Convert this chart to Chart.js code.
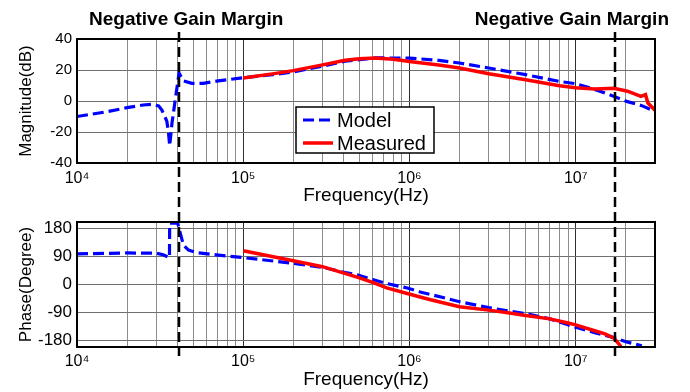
<!DOCTYPE html>
<html><head><meta charset="utf-8">
<script src="https://cdn.jsdelivr.net/npm/chart.js@4.4.1/dist/chart.umd.min.js"></script>
<style>
html,body{margin:0;padding:0;background:#fff;}
#wrap{position:relative;width:690px;height:392px;overflow:hidden;}
.cv{position:absolute;left:0;top:0;width:690px;height:392px;}
</style></head><body>
<div id="wrap">
<div class="cv"><canvas id="mag"></canvas></div>
<div class="cv"><canvas id="phase"></canvas></div>
</div>
<script>
// ---- data ----
const modelMagFreq = [1e4,1.5e4,2e4,2.5e4,2.8e4,3.1e4,3.24e4,3.47e4,3.55e4,3.61e4,3.73e4,3.89e4,4.0e4,4.11e4,4.37e4,4.91e4,5.74e4,7.06e4,1e5,1.5e5,2e5,3e5,4.1e5,6.2e5,1e6,1.5e6,2e6,3e6,5e6,7.9e6,1e7,1.3e7,1.66e7,2.05e7,2.5e7,3e7];
const modelMagDb   = [-10,-7,-4.3,-2.6,-2.1,-3.2,-5.8,-13,-20,-29,-14,0,9,18,13,11.4,11.4,13,15,17,18.8,22.5,25.7,27.8,27.7,26.2,24.5,21.3,17,12.7,11.2,7.5,3.4,-0.4,-3,-6.7];
const measMagFreq  = [1e5,1.5e5,2e5,3e5,4.1e5,5e5,6.2e5,8e5,1e6,1.5e6,2e6,3e6,5e6,8e6,1e7,1.3e7,1.7e7,2.05e7,2.47e7,2.63e7,2.72e7,2.95e7,3e7];
const measMagDb    = [14.8,17.5,19.6,23.3,26.3,27.2,27.7,27,25.5,23.2,21.3,17.6,13.7,9.9,8.6,7.8,8.2,6.3,3.0,4.1,-1.3,-5.2,-6];
const modelPhaseFreq = [1e4,2e4,3e4,3.3e4,3.6e4,3.61e4,4.04e4,4.13e4,4.21e4,4.37e4,4.69e4,5.26e4,7.1e4,1e5,2e5,3e5,3.9e5,4.9e5,6e5,7.3e5,9.7e5,1.16e6,1.34e6,2e6,3e6,4e6,5e6,7e6,9e6,1e7,1.3e7,1.7e7,2e7,2.5e7];
const modelPhaseDeg  = [98,101,100,95,86,196,196,174,158,126,110,102,94,86,68,55,41,30,16,3,-11,-24,-32,-55,-74,-85,-93,-110,-129,-137,-154,-170,-183,-196];
const measPhaseFreq  = [1e5,2e5,3e5,3.9e5,4.9e5,6e5,7.3e5,9.7e5,1.16e6,1.34e6,2e6,3e6,4e6,5e6,7e6,9e6,1e7,1.3e7,1.5e7,1.7e7,1.85e7,1.92e7];
const measPhaseDeg   = [108,76,57,39,23,6.5,-11,-29,-40,-49,-71,-82,-91,-99,-110,-123,-129,-148,-158,-172,-195,-210];
const magTicks   = [-40,-20,0,20,40];
const phaseTicks = [-180,-90,0,90,180];
const decadeLabels = {10000:'10\u2074',100000:'10\u2075',1000000:'10\u2076',10000000:'10\u2077'};
const gainMarginFreqs = [4.12e4, 1.72e7];
const gainMarginText = 'Negative Gain Margin';
const seriesNames = ['Model','Measured'];
const xMin = 1e4, xMax = 3e7;

// ---- styling ----
const FAM = "'Liberation Sans', Arial, Helvetica, sans-serif";
Chart.defaults.font.family = FAM;
Chart.defaults.color = '#000';
const BLUE = '#0000ff', RED = '#ff0000';

function pts(fx, fy){ return fx.map((f,i)=>({x:f, y:fy[i]})); }
function logGridTicks(scale){
  const t = [];
  for (let e = 4; e <= 7; e++) for (let m = 1; m <= 9; m++) {
    const v = m * Math.pow(10, e);
    if (v >= xMin && v <= xMax) t.push({value: v});
  }
  scale.ticks = t;
}
function xScale(tickPad, titlePad){
  return {
    type:'logarithmic', min:xMin, max:xMax,
    afterBuildTicks: logGridTicks,
    afterFit: s => { s.height = 45; },
    ticks:{autoSkip:false, maxRotation:0, minRotation:0, padding:tickPad,
      font:{size:16}, color:'#000',
      callback: v => decadeLabels[v] !== undefined ? decadeLabels[v] : ''},
    grid:{drawTicks:false, lineWidth:1,
      color: c => (c.tick && [1e4,1e5,1e6,1e7].includes(c.tick.value)) ? '#303030' : '#8c8c8c'},
    border:{display:false},
    title:{display:true, text:'Frequency(Hz)', font:{size:19}, color:'#000', padding:{top:0,bottom:titlePad}}
  };
}
function yScale(min, max, tickVals, title, fontSize){
  return {
    min, max,
    afterBuildTicks: s => { s.ticks = tickVals.map(v=>({value:v})); },
    afterFit: s => { s.width = 77; },
    ticks:{padding:5, font:{size:fontSize}, color:'#000'},
    grid:{drawTicks:false, color:'#707070', lineWidth:1},
    border:{display:false},
    title:{display:true, text:title, font:{size:17}, color:'#000', padding:{top:16,bottom:0}}
  };
}
const boxPlugin = {
  id:'box',
  afterDatasetsDraw(chart){
    const {ctx, chartArea:a} = chart;
    ctx.save();
    ctx.strokeStyle = '#000'; ctx.lineWidth = 2;
    ctx.strokeRect(a.left, a.top, a.right - a.left, a.bottom - a.top);
    ctx.restore();
  }
};
const legendPlugin = {
  id:'legendBox',
  afterDraw(chart){
    const {ctx, chartArea:a} = chart;
    const bx = a.left + 219, by = a.top + 68, bw = 138, bh = 46;
    ctx.save();
    ctx.fillStyle = '#fff';
    ctx.fillRect(bx, by, bw, bh);
    ctx.strokeStyle = '#000'; ctx.lineWidth = 1.5;
    ctx.strokeRect(bx, by, bw, bh);
    const dsByName = {};
    chart.data.datasets.forEach(d => dsByName[d.label] = d);
    seriesNames.forEach((name, i) => {
      const d = dsByName[name];
      const yy = by + 13 + i * 23;
      ctx.strokeStyle = d.borderColor; ctx.lineWidth = d.borderWidth;
      ctx.setLineDash(d.borderDash || []);
      ctx.beginPath(); ctx.moveTo(bx + 7, yy); ctx.lineTo(bx + 37, yy); ctx.stroke();
      ctx.setLineDash([]);
      ctx.fillStyle = '#000'; ctx.font = '20px ' + FAM;
      ctx.textAlign = 'left'; ctx.textBaseline = 'middle';
      ctx.fillText(name, bx + 41, yy + 1);
    });
    ctx.restore();
  }
};
const marginPlugin = {
  id:'margins',
  afterDraw(chart){
    const {ctx} = chart;
    const xs = chart.scales.x;
    ctx.save();
    ctx.strokeStyle = '#000'; ctx.lineWidth = 2.5; ctx.setLineDash([10,5]);
    const xp = gainMarginFreqs.map(f => Math.round(xs.getPixelForValue(f)));
    xp.forEach(x => { ctx.beginPath(); ctx.moveTo(x, 32); ctx.lineTo(x, 356); ctx.stroke(); });
    ctx.setLineDash([]);
    ctx.fillStyle = '#000'; ctx.font = 'bold 19px ' + FAM; ctx.textBaseline = 'alphabetic';
    ctx.textAlign = 'left';  ctx.fillText(gainMarginText, xp[0] - 90, 24.5);
    ctx.textAlign = 'right'; ctx.fillText(gainMarginText, xp[1] + 54, 24.5);
    ctx.restore();
  }
};
function ds(label, data, color, width, dash, order){
  return {label, data, borderColor:color, backgroundColor:color, borderWidth:width,
    borderDash:dash, pointRadius:0, tension:0, fill:false, order};
}
const common = {responsive:true, maintainAspectRatio:false, animation:false, devicePixelRatio:1,
  plugins:{legend:{display:false}, tooltip:{enabled:false}, title:{display:false}}, events:[]};

new Chart(document.getElementById('mag'), {
  type:'line',
  data:{datasets:[
    ds('Model', pts(modelMagFreq, modelMagDb), BLUE, 3.2, [11,5], 1),
    ds('Measured', pts(measMagFreq, measMagDb), RED, 3.5, [], 0)
  ]},
  options:Object.assign({}, common, {
    layout:{padding:{top:39, right:35, bottom:184, left:0}},
    scales:{x:xScale(6, 1), y:yScale(-40, 40, magTicks, 'Magnitude(dB)', 15)}
  }),
  plugins:[boxPlugin, legendPlugin]
});
new Chart(document.getElementById('phase'), {
  type:'line',
  data:{datasets:[
    ds('Model', pts(modelPhaseFreq, modelPhaseDeg), BLUE, 3.2, [11,5], 1),
    ds('Measured', pts(measPhaseFreq, measPhaseDeg), RED, 3.5, [], 0)
  ]},
  options:Object.assign({}, common, {
    layout:{padding:{top:222, right:35, bottom:0, left:0}},
    scales:{x:xScale(5, 1), y:yScale(-200, 200, phaseTicks, 'Phase(Degree)', 17)}
  }),
  plugins:[boxPlugin, marginPlugin]
});
</script>
</body></html>
